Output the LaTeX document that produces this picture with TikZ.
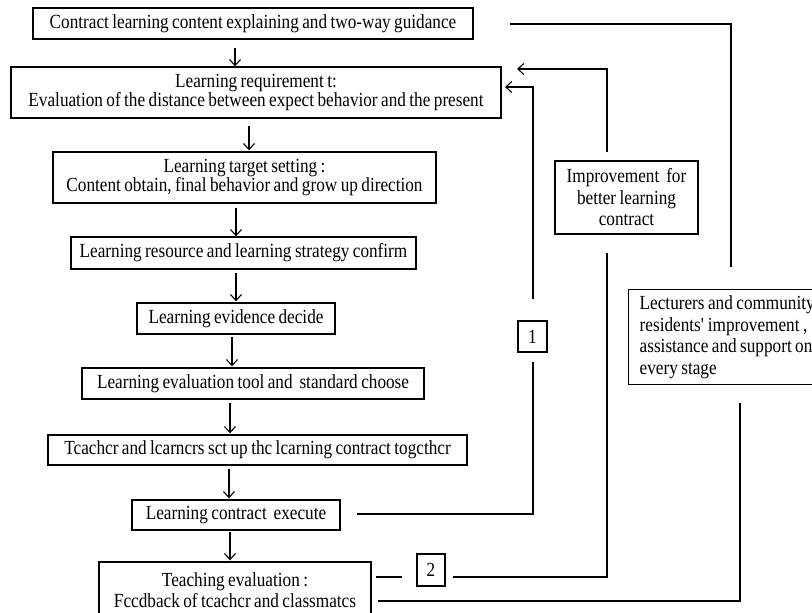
\documentclass[tikz,border=0pt]{standalone}
\usepackage{fontspec}
\setmainfont[FakeStretch=0.86,WordSpace=0.8]{Liberation Serif}
\usetikzlibrary{arrows.meta}
\begin{document}
\begin{tikzpicture}[x=1pt,y=-1pt,
  box/.style={draw, line width=1.4pt, inner sep=0pt, align=center,
    font=\fontsize{20}{17}\selectfont},
  widebox/.style={box, font=\fontsize{20}{21.5}\selectfont},
  link/.style={line width=1.2pt},
  arr/.style={link, -{Straight Barb[length=6pt,width=11pt,line width=1.1pt]}},
]
\useasboundingbox (0,0) rectangle (812,613);
\clip (0,0) rectangle (812,613);

% main column of steps
\node[box, minimum width=440, minimum height=31] (b1) at (253,23.5)
  {Contract learning content explaining and two-way guidance};
\node[box, minimum width=490, minimum height=51] (b2) at (256,92.5)
  {Learning requirement t:\\Evaluation of the distance between expect behavior and the present};
\node[box, minimum width=383, minimum height=51] (b3) at (244.5,177.5)
  {Learning target setting :\\ Content obtain, final behavior and grow up direction};
\node[box, minimum width=345, minimum height=32] (b4) at (243.5,253)
  {Learning resource and learning strategy confirm};
\node[box, minimum width=198, minimum height=31] (b5) at (236,318.5)
  {Learning evidence decide};
\node[box, minimum width=342, minimum height=31] (b6) at (253,383.5)
  {Learning evaluation tool and~ standard choose};
\node[box, minimum width=419, minimum height=30] (b7) at (257.5,450)
  {Tcachcr and lcarncrs sct up thc lcarning contract togcthcr};
\node[box, minimum width=208, minimum height=30] (b8) at (236,515)
  {Learning contract~ execute};
\node[widebox, minimum width=272, minimum height=56] (b9) at (235,590)
  {Teaching evaluation :\\Fccdback of tcachcr and classmatcs};

% side boxes
\node[widebox, minimum width=143, minimum height=73] (imp) at (626.5,197.5)
  {Improvement~ for\\better learning\\contract};
\node[box, minimum width=29, minimum height=31] (n1) at (532.5,336.5) {1};
\node[box, minimum width=28, minimum height=32] (n2) at (431,570) {2};
\node[box, font=\fontsize{20}{21.5}\selectfont, align=flush left, text width=205pt,
  inner xsep=11pt, minimum height=95, anchor=north west] (lect) at (628,289)
  {Lecturers and community\\residents\textquotesingle\ improvement ,\\assistance and support on\\every stage};

% x positions of the downward arrows
\coordinate (x1) at (235,0);
\coordinate (x2) at (249,0);
\coordinate (x3) at (236,0);
\coordinate (x4) at (232,0);
\coordinate (x5) at (230,0);
\coordinate (x6) at (229,0);

\draw[arr] ([yshift=-8pt]b1.south -| x1) -- (b2.north -| x1);
\draw[arr] ([yshift=-7pt]b2.south -| x2) -- ([yshift=1pt]b3.north -| x2);
\draw[arr] ([yshift=-4pt]b3.south -| x3) -- (b4.north -| x3);
\draw[arr] ([yshift=-3pt]b4.south -| x3) -- ([yshift=1pt]b5.north -| x3);
\draw[arr] ([yshift=-2pt]b5.south -| x4) -- ([yshift=1pt]b6.north -| x4);
\draw[arr] ([yshift=-3pt]b6.south -| x5) -- ([yshift=1pt]b7.north -| x5);
\draw[arr] ([yshift=-3pt]b7.south -| x6) -- ([yshift=1pt]b8.north -| x6);
\draw[arr] ([yshift=-1pt]b8.south -| x5) -- ([yshift=1pt]b9.north -| x5);

% support line from the first step down to the lecturers box
\coordinate (s1) at (510,24);
\coordinate (s2) at (731,267);
\draw[link] (s1) -| (s2);

% feedback loops back to the learning requirement
\coordinate (f1a) at (607,152);
\coordinate (f1b) at (517,69);
\draw[arr] (f1a) |- (f1b);
\coordinate (f2a) at (533,299);
\coordinate (f2b) at (505,87);
\draw[arr] (f2a) |- (f2b);

% loop 1: contract execution to label 1
\coordinate (e1) at (357,514);
\coordinate (e2) at (533,362);
\draw[link] (e1) -| (e2);

% loop 2: teaching evaluation through label 2 to the improvement box
\coordinate (g1) at (376,577);
\coordinate (g2) at (402,577);
\draw[link] (g1) -- (g2);
\coordinate (g3) at (453,577);
\coordinate (g4) at (607,253);
\draw[link] (g3) -| (g4);

% teaching evaluation to the lecturers box
\coordinate (h1) at (378,601);
\coordinate (h2) at (740,403);
\draw[link] (h1) -| (h2);
\end{tikzpicture}
\end{document}
